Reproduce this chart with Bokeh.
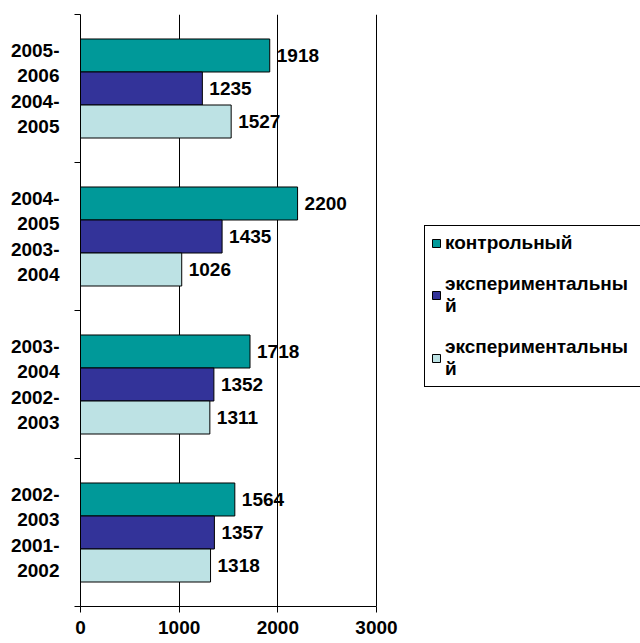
from bokeh.plotting import figure
from bokeh.models import FixedTicker, Legend, LegendItem, ColumnDataSource
from bokeh.core.properties import value
from bokeh.embed import file_html
from bokeh.resources import INLINE

# ---- data (bottom group first) ----
groups = ["2002-\n2003\n2001-\n2002",
          "2003-\n2004\n2002-\n2003",
          "2004-\n2005\n2003-\n2004",
          "2005-\n2006\n2004-\n2005"]
series_names = ["контрольный", "экспериментальны\nй", "экспериментальны\nй"]
kontrol = [1564, 1718, 2200, 1918]
exper1 = [1357, 1352, 1435, 1235]
exper2 = [1318, 1311, 1026, 1527]
x_ticks = [0, 1000, 2000, 3000]

colors = ["#009999", "#333399", "#bde2e4"]
FONT = "Liberation Sans"
FS = "19px"

# the value axis spans 296 px for 0..3000; the frame continues to the right
# edge of the page so the legend can sit inside it
FRAME_W = 560
AXIS_W = 296
x_end = x_ticks[-1] * FRAME_W / AXIS_W

p = figure(frame_width=FRAME_W, frame_height=592, x_range=(0, x_end), y_range=(0, 4),
           output_backend="svg", toolbar_location=None,
           min_border_left=80, min_border_right=0,
           min_border_top=14, min_border_bottom=34)
p.outline_line_color = None

bar_h = 0.223
offsets = [bar_h, 0.0, -bar_h]
renderers = []
for vals, col, off in zip([kontrol, exper1, exper2], colors, offsets):
    ys = [i + 0.5 + off for i in range(len(groups))]
    src = ColumnDataSource(dict(y=ys, right=vals, lab=[str(v) for v in vals]))
    r = p.hbar(y="y", right="right", left=0, height=bar_h, source=src,
               fill_color=col, line_color="black", line_width=1)
    renderers.append(r)
    p.text(x="right", y="y", text="lab", source=src, x_offset=7,
           text_baseline="middle", text_align="left",
           text_font=value(FONT), text_font_style="bold",
           text_font_size=FS, text_color="black")

# axes
p.xaxis.ticker = FixedTicker(ticks=x_ticks)
p.xaxis.bounds = (x_ticks[0], x_ticks[-1])
p.xaxis.major_tick_out = 6
p.xaxis.major_tick_in = 0
p.xaxis.minor_tick_line_color = None
p.xaxis.axis_line_color = "black"
p.xaxis.major_tick_line_color = "black"
p.xaxis.major_label_text_font = FONT
p.xaxis.major_label_text_font_style = "bold"
p.xaxis.major_label_text_font_size = FS
p.xaxis.major_label_text_color = "black"
p.xaxis.major_label_standoff = 8

p.yaxis.ticker = FixedTicker(ticks=[i + 0.5 for i in range(len(groups))],
                             minor_ticks=list(range(len(groups) + 1)))
p.yaxis.major_label_overrides = {i + 0.5: g for i, g in enumerate(groups)}
p.yaxis.major_tick_line_color = None
p.yaxis.major_tick_out = 0
p.yaxis.major_tick_in = 0
p.yaxis.minor_tick_out = 6
p.yaxis.minor_tick_in = 0
p.yaxis.minor_tick_line_color = "black"
p.yaxis.axis_line_color = "black"
p.yaxis.major_label_text_font = FONT
p.yaxis.major_label_text_font_style = "bold"
p.yaxis.major_label_text_font_size = FS
p.yaxis.major_label_text_color = "black"
p.yaxis.major_label_text_line_height = 1.2
p.yaxis.major_label_standoff = 15

p.xgrid.ticker = FixedTicker(ticks=x_ticks)
p.xgrid.grid_line_color = "black"
p.ygrid.grid_line_color = None

legend = Legend(items=[LegendItem(label=n, renderers=[r]) for n, r in zip(series_names, renderers)],
                location=(344, 219))
legend.label_text_font = FONT
legend.label_text_font_style = "bold"
legend.label_text_font_size = FS
legend.label_text_color = "black"
legend.label_text_line_height = 0.92
legend.label_width = 200
legend.glyph_width = 10
legend.glyph_height = 10
legend.label_standoff = 4
legend.padding = 6
legend.spacing = 19
legend.margin = 0
legend.border_line_color = "black"
legend.border_line_width = 1
legend.border_line_alpha = 1
legend.background_fill_color = "white"
legend.background_fill_alpha = 1
p.add_layout(legend)

open("out.html", "w").write(file_html(p, INLINE))
